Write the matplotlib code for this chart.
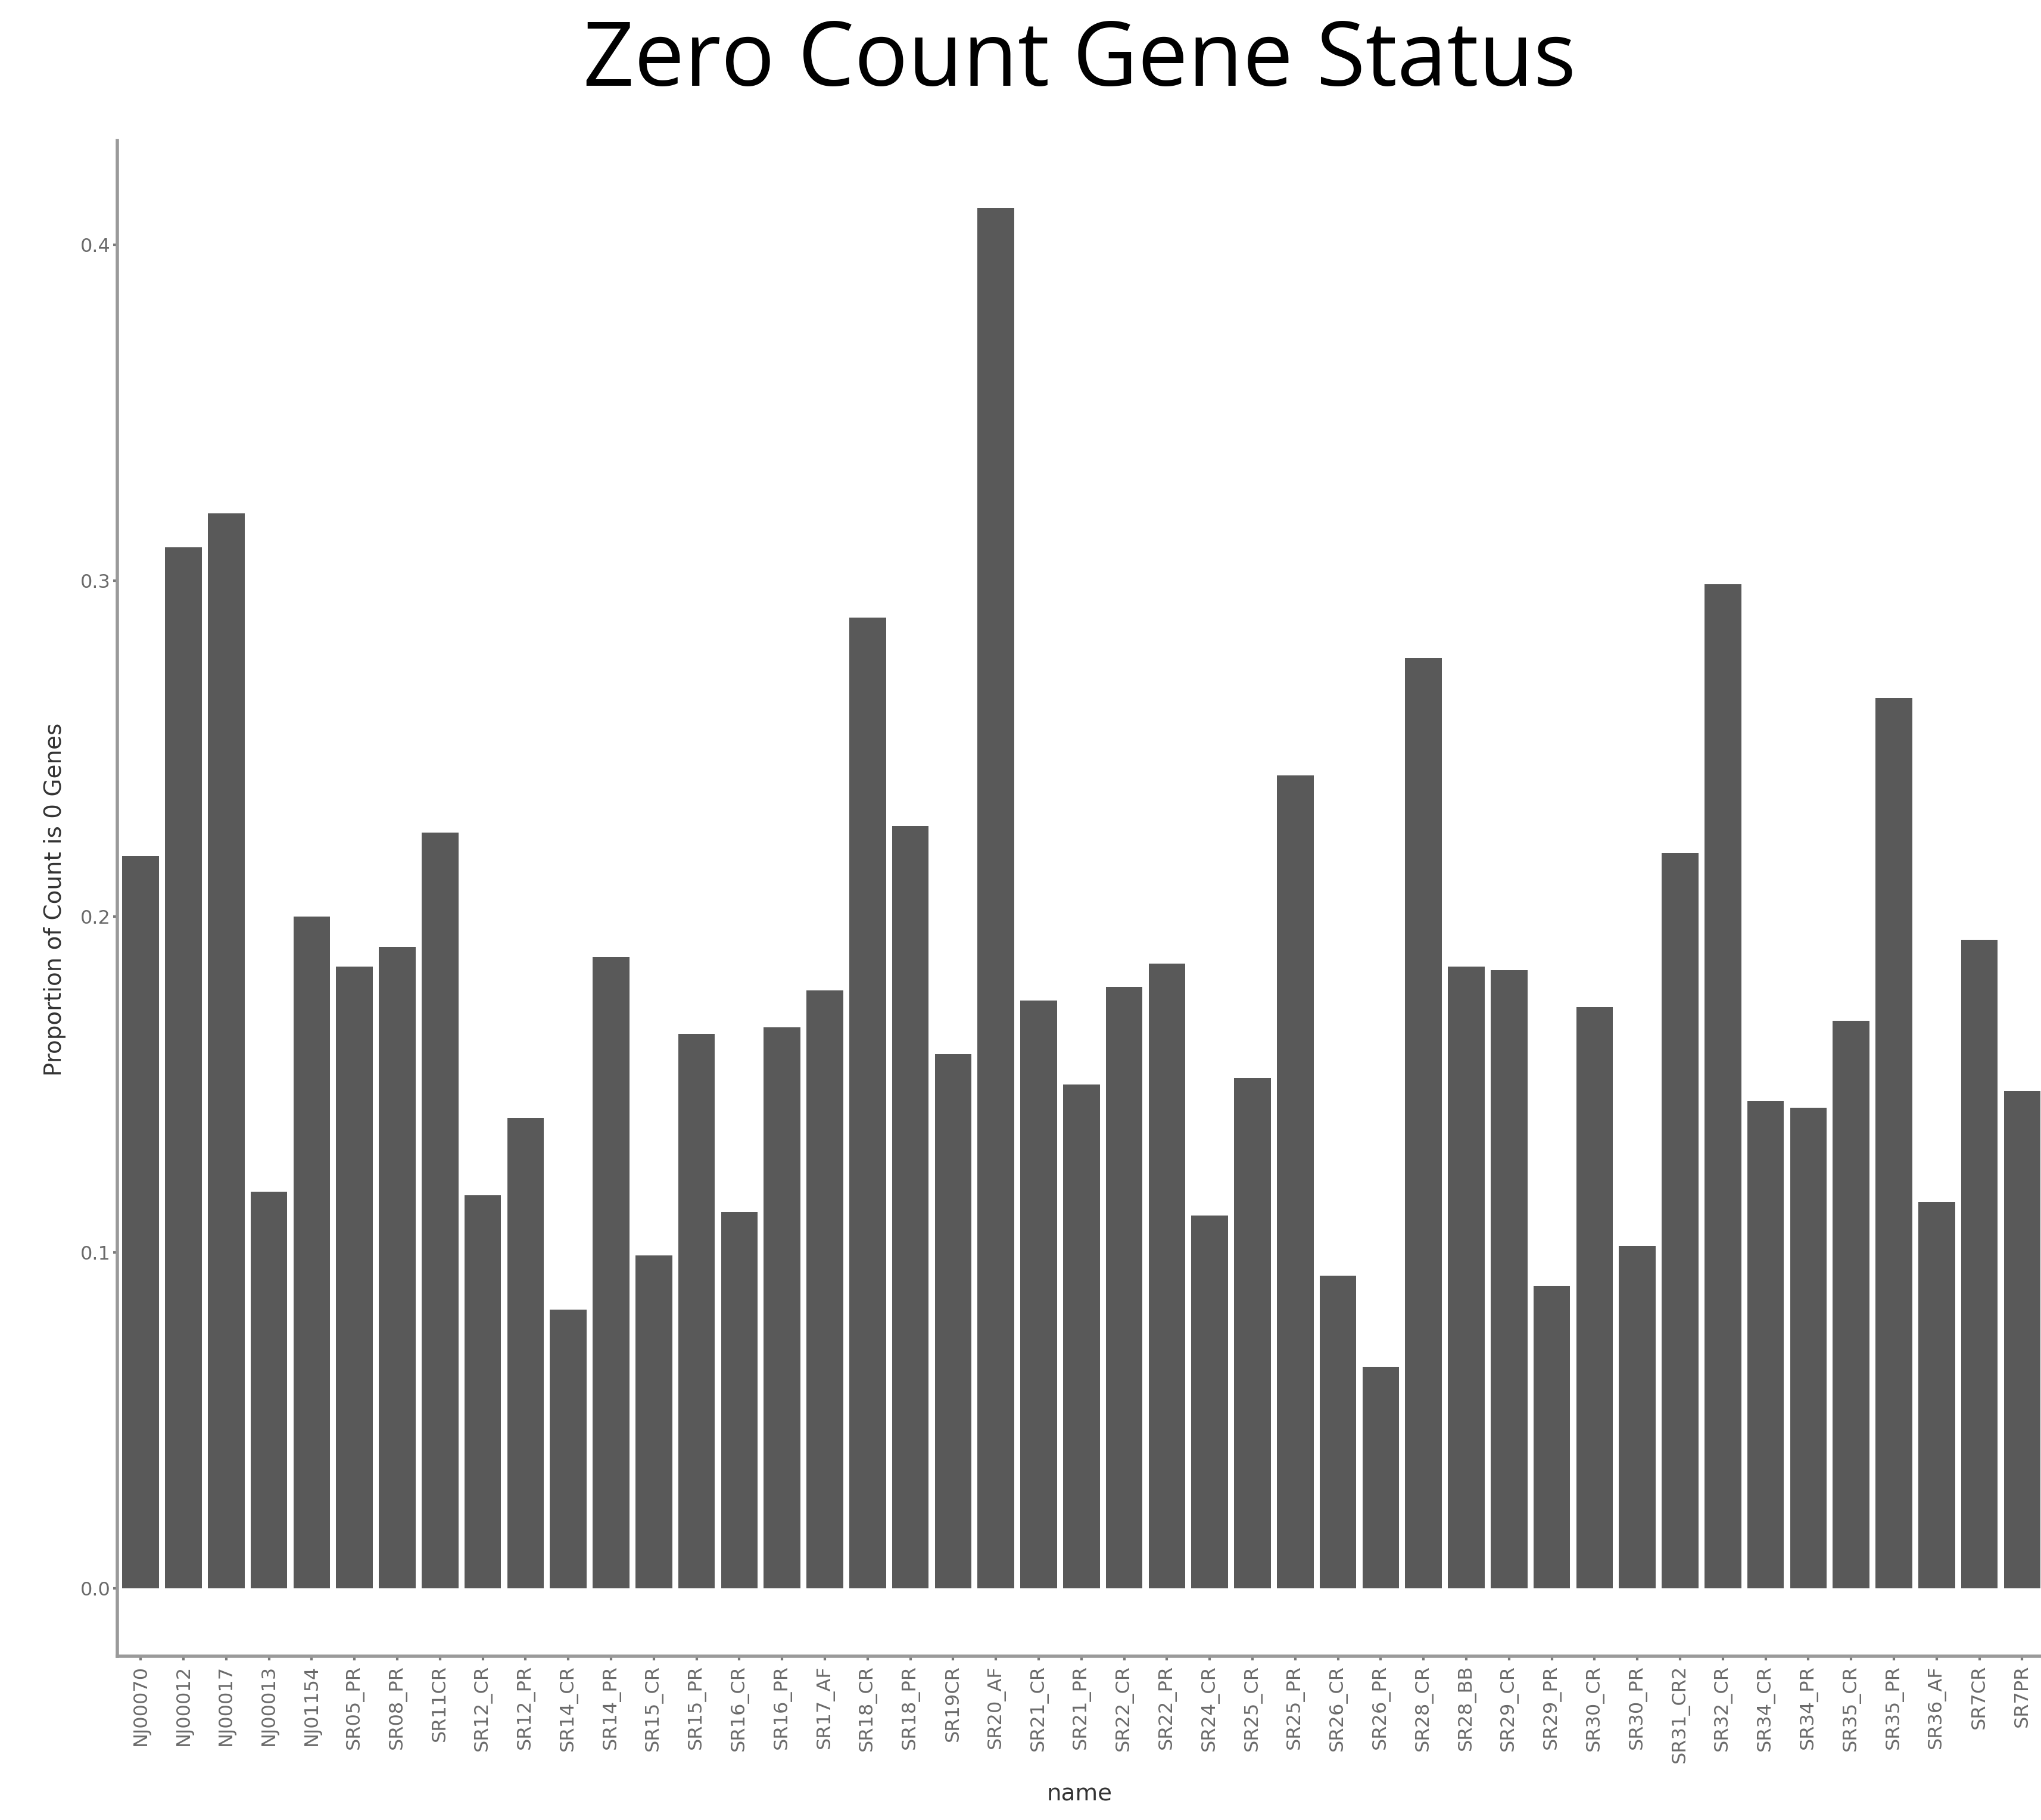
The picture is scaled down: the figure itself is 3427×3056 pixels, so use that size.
import matplotlib
matplotlib.use("Agg")
import matplotlib.pyplot as plt
import numpy as np

names = ["NJ00070", "NJ00012", "NJ00017", "NJ00013", "NJ01154", "SR05_PR", "SR08_PR",
         "SR11CR", "SR12_CR", "SR12_PR", "SR14_CR", "SR14_PR", "SR15_CR", "SR15_PR",
         "SR16_CR", "SR16_PR", "SR17_AF", "SR18_CR", "SR18_PR", "SR19CR", "SR20_AF",
         "SR21_CR", "SR21_PR", "SR22_CR", "SR22_PR", "SR24_CR", "SR25_CR", "SR25_PR",
         "SR26_CR", "SR26_PR", "SR28_CR", "SR28_BB", "SR29_CR", "SR29_PR", "SR30_CR",
         "SR30_PR", "SR31_CR2", "SR32_CR", "SR34_CR", "SR34_PR", "SR35_CR", "SR35_PR",
         "SR36_AF", "SR7CR", "SR7PR"]
proportion = [0.218, 0.310, 0.320, 0.118, 0.200, 0.185, 0.191, 0.225, 0.117, 0.140,
              0.083, 0.188, 0.099, 0.165, 0.112, 0.167, 0.178, 0.289, 0.227, 0.159,
              0.411, 0.175, 0.150, 0.179, 0.186, 0.111, 0.152, 0.242, 0.093, 0.066,
              0.277, 0.185, 0.184, 0.090, 0.173, 0.102, 0.219, 0.299, 0.145, 0.143,
              0.169, 0.265, 0.115, 0.193, 0.148]
yticks = [0.0, 0.1, 0.2, 0.3, 0.4]

W, H = 3427, 3056
fig = plt.figure(figsize=(W / 100, H / 100), dpi=100)
ax = fig.add_axes([0.0574, 0.0901, 0.9426, 0.8326])

x = np.arange(len(names))
ax.bar(x, proportion, width=0.86, color="#595959", zorder=2)

ax.set_xlim(-0.55, 44.44)
ax.set_ylim(-0.0202, 0.431)

ax.set_yticks(yticks)
ax.set_yticklabels([f"{v:.1f}" for v in yticks])
ax.set_xticks(x)
ax.set_xticklabels(names, rotation=90)

for side in ["top", "right"]:
    ax.spines[side].set_visible(False)
for side in ["left", "bottom"]:
    ax.spines[side].set_color("#9a9a9a")
    ax.spines[side].set_linewidth(4)

ax.tick_params(axis="both", colors="#7a7a7a", length=5, width=3,
               labelsize=23, labelcolor="#6a6a6a")
ax.tick_params(axis="y", pad=3)
ax.tick_params(axis="x", pad=6)

fig.text(0.529, 0.9657, "Zero Count Gene Status", ha="center", va="center",
         fontsize=108, family=["Open Sans", "DejaVu Sans"], color="black")
fig.text(0.0268, 0.5057, "Proportion of Count is 0 Genes", ha="center", va="center",
         rotation=90, fontsize=28, color="#333333")
fig.text(0.529, 0.0143, "name", ha="center", va="center", fontsize=28, color="#333333")

fig.savefig("out.png", dpi=100)
